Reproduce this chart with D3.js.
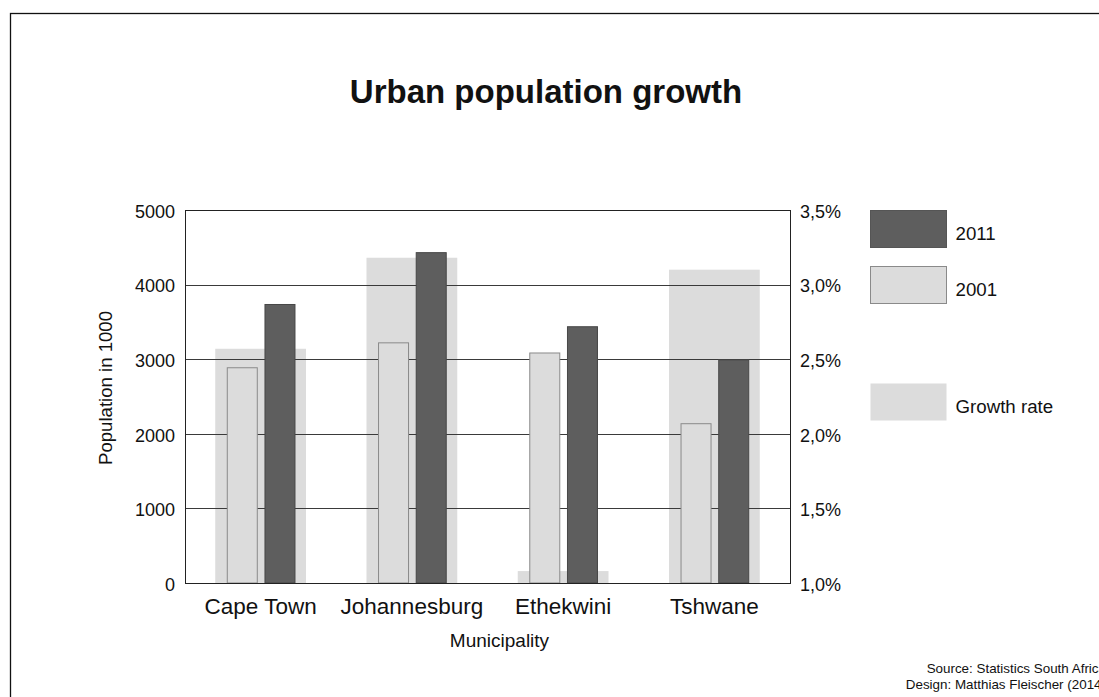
<!DOCTYPE html>
<html><head><meta charset="utf-8">
<script src="https://cdn.jsdelivr.net/npm/d3@7"></script>
<style>
html,body{margin:0;padding:0;background:#fff;overflow:hidden;}
text{font-family:"Liberation Sans",Arial,Helvetica,sans-serif;fill:#111;}
</style></head>
<body>
<svg id="chart" width="1099" height="697"></svg>
<script>
const categories = ["Cape Town", "Johannesburg", "Ethekwini", "Tshwane"];
const pop2001 = [2892, 3226, 3090, 2142];
const pop2011 = [3740, 4435, 3442, 2998];
const growthRate = [2.57, 3.18, 1.08, 3.10];
const leftTicks = [0, 1000, 2000, 3000, 4000, 5000];
const rightTicks = [1.0, 1.5, 2.0, 2.5, 3.0, 3.5];
const legendItems = ["2011", "2001", "Growth rate"];

const svg = d3.select("#chart");
const m = {left: 185, right: 790, top: 210, bottom: 583};

// outer border (extends beyond viewport on right and bottom)
svg.append("rect").attr("x", 10.5).attr("y", 13.5).attr("width", 1200).attr("height", 800)
  .attr("fill", "none").attr("stroke", "#111").attr("stroke-width", 1.3);

const x = d3.scaleBand().domain(categories).range([m.left, m.right]).padding(0);
const y = d3.scaleLinear().domain([0, 5000]).range([m.bottom, m.top]);
const y2 = d3.scaleLinear().domain([1.0, 3.5]).range([m.bottom, m.top]);

const bw = x.bandwidth();
const gW = bw * 0.6;
const pW = 30, gap = 7.7;

// growth rate bars
svg.append("g").selectAll("rect").data(categories).join("rect")
  .attr("x", d => x(d) + bw / 2 - gW / 2)
  .attr("y", (d, i) => y2(growthRate[i]))
  .attr("width", gW)
  .attr("height", (d, i) => m.bottom - y2(growthRate[i]))
  .attr("fill", "#dcdcdc");

// gridlines
svg.append("g").selectAll("line").data(leftTicks.filter(t => t > 0 && t < 5000)).join("line")
  .attr("x1", m.left).attr("x2", m.right)
  .attr("y1", d => Math.round(y(d)) + 0.5).attr("y2", d => Math.round(y(d)) + 0.5)
  .attr("stroke", "#3a3a3a").attr("stroke-width", 1);

// 2001 bars
svg.append("g").selectAll("rect").data(categories).join("rect")
  .attr("x", d => x(d) + bw / 2 - gap / 2 - pW + 0.5)
  .attr("y", (d, i) => y(pop2001[i]) + 0.5)
  .attr("width", pW)
  .attr("height", (d, i) => m.bottom - y(pop2001[i]) - 0.5)
  .attr("fill", "#dcdcdc").attr("stroke", "#8a8a8a").attr("stroke-width", 1);

// 2011 bars
svg.append("g").selectAll("rect").data(categories).join("rect")
  .attr("x", d => x(d) + bw / 2 + gap / 2 + 0.5)
  .attr("y", (d, i) => y(pop2011[i]) + 0.5)
  .attr("width", pW)
  .attr("height", (d, i) => m.bottom - y(pop2011[i]) - 0.5)
  .attr("fill", "#5e5e5e").attr("stroke", "#474747").attr("stroke-width", 1);

// plot frame
svg.append("rect").attr("x", m.left + 0.5).attr("y", m.top + 0.5)
  .attr("width", m.right - m.left).attr("height", m.bottom - m.top)
  .attr("fill", "none").attr("stroke", "#222").attr("stroke-width", 1);

// left axis labels
const axL = svg.append("g").attr("transform", `translate(${m.left},0)`)
  .call(d3.axisLeft(y).tickValues(leftTicks).tickSize(0).tickPadding(10).tickFormat(d3.format("d")));
axL.select(".domain").remove();
axL.selectAll("text").style("font-size", "18px").attr("font-family", null).attr("dy", "0.4em");

// right axis labels
const axR = svg.append("g").attr("transform", `translate(${m.right},0)`)
  .call(d3.axisRight(y2).tickValues(rightTicks).tickSize(0).tickPadding(10)
    .tickFormat(d => d.toFixed(1).replace(".", ",") + "%"));
axR.select(".domain").remove();
axR.selectAll("text").style("font-size", "18px").attr("font-family", null).attr("dy", "0.4em");

// category labels
const axB = svg.append("g").attr("transform", `translate(0,${m.bottom})`)
  .call(d3.axisBottom(x).tickSize(0).tickPadding(10));
axB.select(".domain").remove();
axB.selectAll("text").style("font-size", "22.5px").attr("font-family", null).attr("dy", "0.95em");

// titles
svg.append("text").attr("x", 546).attr("y", 103).attr("text-anchor", "middle")
  .style("font-size", "33px").style("font-weight", "bold").text("Urban population growth");
svg.append("text").attr("x", 499.5).attr("y", 647).attr("text-anchor", "middle")
  .style("font-size", "19px").text("Municipality");
svg.append("text").attr("transform", "translate(112,388) rotate(-90)").attr("text-anchor", "middle")
  .style("font-size", "18.6px").text("Population in 1000");

// legend
const legY = [210, 266, 383];
const legFill = ["#5e5e5e", "#dcdcdc", "#dcdcdc"];
const legStroke = ["#555", "#8a8a8a", "none"];
const leg = svg.append("g");
leg.selectAll("rect").data(legendItems).join("rect")
  .attr("x", 870.5).attr("y", (d, i) => legY[i] + 0.5).attr("width", 76).attr("height", 37)
  .attr("fill", (d, i) => legFill[i]).attr("stroke", (d, i) => legStroke[i]);
leg.selectAll("text").data(legendItems).join("text")
  .attr("x", 955.5).attr("y", (d, i) => legY[i] + 29.5)
  .style("font-size", "18.7px").text(d => d);

// source
svg.append("text").attr("x", 1106).attr("y", 673).attr("text-anchor", "end")
  .style("font-size", "13.4px").text("Source: Statistics South Africa");
svg.append("text").attr("x", 1106).attr("y", 689).attr("text-anchor", "end")
  .style("font-size", "13.4px").text("Design: Matthias Fleischer (2014)");
</script>
</body></html>
